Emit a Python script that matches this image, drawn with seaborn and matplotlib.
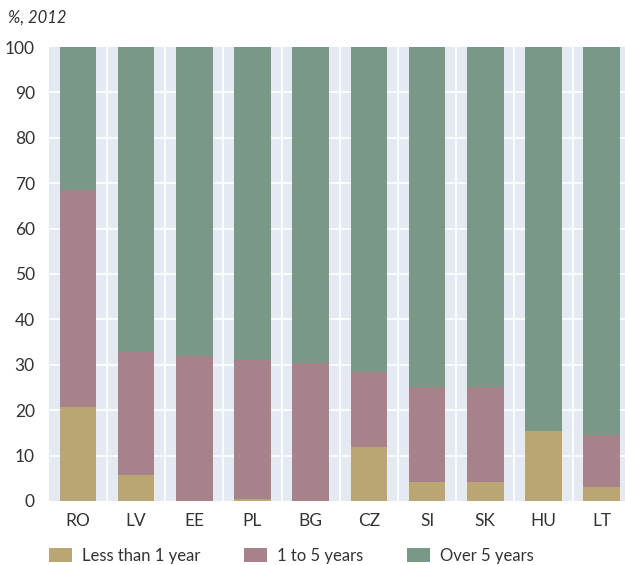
import matplotlib
matplotlib.use("Agg")
import matplotlib.pyplot as plt
import seaborn as sns
import pandas as pd
import numpy as np
from matplotlib.patches import Patch

countries = ["RO", "LV", "EE", "PL", "BG", "CZ", "SI", "SK", "HU", "LT"]
less_1 = [20.6, 5.7, 0.0, 0.4, 0.0, 11.9, 4.2, 4.2, 15.4, 3.1]
one_to_5 = [47.9, 27.1, 31.9, 30.7, 30.4, 16.5, 20.9, 20.9, 0.0, 11.4]
over_5 = [31.5, 67.2, 68.1, 68.9, 69.6, 71.6, 74.9, 74.9, 84.6, 85.5]
series_names = ["Less than 1 year", "1 to 5 years", "Over 5 years"]
colors = ["#b9a673", "#a8828a", "#7a9888"]

sns.set_theme(style="white")
plt.rcParams["font.family"] = ["Lato", "DejaVu Sans"]

df = pd.DataFrame({"country": countries, "less": less_1, "mid": one_to_5, "over": over_5})
df["c1"] = df["less"]
df["c2"] = df["less"] + df["mid"]
df["c3"] = df["less"] + df["mid"] + df["over"]

fig = plt.figure(figsize=(6.25, 5.65), dpi=100)
ax = fig.add_axes([0.078, 0.1133, 0.922, 0.8035])
ax.set_facecolor("#e5e9f1")

for col, c in zip(["c3", "c2", "c1"], colors[::-1]):
    sns.barplot(data=df, x="country", y=col, color=c, width=0.63, ax=ax,
                saturation=1, zorder=3, linewidth=0)

ax.set_ylim(0, 100)
ax.set_xlim(-0.5, 9.4)
ax.set_yticks(range(0, 101, 10))
for y in range(10, 100, 10):
    ax.axhline(y, color="white", lw=1.2, zorder=1)
for x in np.arange(0.5, 9.5, 1):
    ax.axvline(x, color="white", lw=1.2, zorder=1)
ax.set_xlabel("")
ax.set_ylabel("")
for s in ax.spines.values():
    s.set_visible(False)
ax.tick_params(axis="both", length=0, labelsize=12.5, colors="#333333")
ax.tick_params(axis="x", pad=9)
ax.tick_params(axis="y", pad=10)

fig.text(0.013, 0.968, "%, 2012", fontsize=12, style="italic", color="#333333",
         ha="left", va="center")

handles = [Patch(facecolor=c, edgecolor="none") for c in colors]
fig.legend(handles, series_names, loc="center left", bbox_to_anchor=(0.054, 0.016),
           ncol=3, frameon=False, fontsize=12, handlelength=1.4, handleheight=0.9,
           columnspacing=2.6, handletextpad=0.6, labelcolor="#333333")

fig.savefig("out.png", dpi=100)
